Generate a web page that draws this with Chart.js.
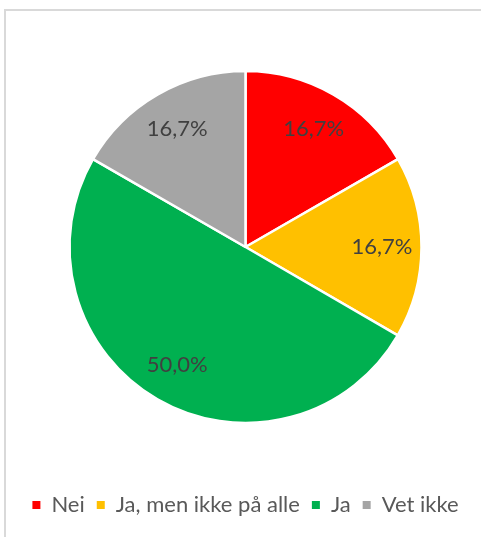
<!DOCTYPE html>
<html>
<head>
<meta charset="utf-8">
<script src="https://cdn.jsdelivr.net/npm/chart.js@4/dist/chart.umd.min.js"></script>
<style>
  html, body { margin: 0; padding: 0; background: #fff; }
  #wrap { position: relative; width: 481px; height: 537px; overflow: hidden; }
  #frame { position: absolute; left: 4px; top: 9px; width: 600px; height: 600px; border: 2px solid #d9d9d9; box-sizing: border-box; }
  canvas { position: absolute; left: 0; top: 0; }
</style>
</head>
<body>
<div id="wrap">
  <div id="frame"></div>
  <canvas id="pieChart" width="481" height="537"></canvas>
</div>
<script>
const categories = ["Nei", "Ja, men ikke på alle", "Ja", "Vet ikke"];
const shares = [16.7, 16.7, 50.0, 16.7];
const sliceColors = ["#FF0000", "#FFC000", "#00B050", "#A5A5A5"];
const FONT = "Lato, 'Open Sans', sans-serif";

// percent labels placed along each slice's middle angle
const pieLabels = {
    id: "pieLabels",
    afterDatasetsDraw(chart) {
        const ctx = chart.ctx;
        const meta = chart.getDatasetMeta(0);
        ctx.save();
        ctx.font = "22px " + FONT;
        ctx.fillStyle = "#404040";
        ctx.textAlign = "center";
        ctx.textBaseline = "middle";
        meta.data.forEach((arc, i) => {
            const p = arc.getProps(["x", "y", "startAngle", "endAngle", "outerRadius"], true);
            const mid = (p.startAngle + p.endAngle) / 2;
            const r = p.outerRadius * 0.775;
            const text = shares[i].toFixed(1).replace(".", ",") + "%";
            ctx.fillText(text, p.x + Math.cos(mid) * r, p.y + Math.sin(mid) * r);
        });
        ctx.restore();
    }
};

const ctx = document.getElementById("pieChart").getContext("2d");

new Chart(ctx, {
    type: "pie",
    data: {
        labels: categories,
        datasets: [{
            data: shares,
            backgroundColor: sliceColors,
            borderColor: "#ffffff",
            borderWidth: 2.5
        }]
    },
    options: {
        responsive: false,
        animation: false,
        radius: 176,
        layout: { padding: { top: 12, bottom: 11, left: 10, right: 0 } },
        plugins: {
            legend: {
                position: "bottom",
                labels: {
                    boxWidth: 8,
                    boxHeight: 8,
                    padding: 12,
                    color: "#595959",
                    font: { family: FONT, size: 22 },
                    generateLabels(chart) {
                        const items = Chart.overrides.pie.plugins.legend.labels.generateLabels(chart);
                        items.forEach(it => { it.lineWidth = 0; it.strokeStyle = it.fillStyle; });
                        return items;
                    }
                }
            },
            tooltip: { enabled: false }
        }
    },
    plugins: [pieLabels]
});
</script>
</body>
</html>
